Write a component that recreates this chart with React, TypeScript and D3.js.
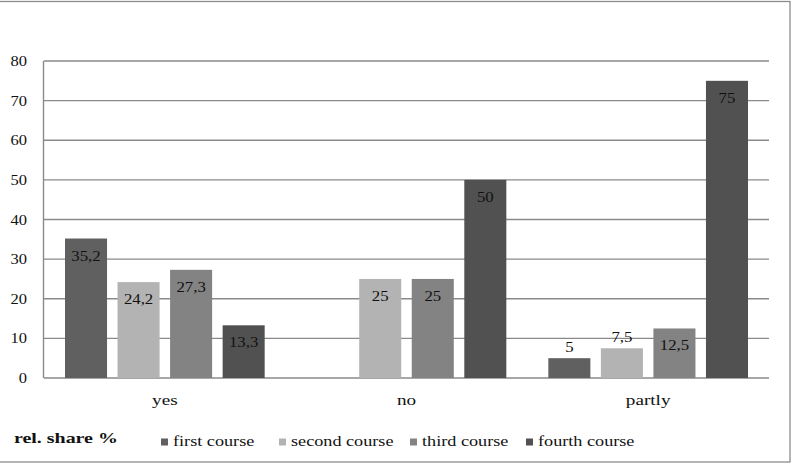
import React from "react";
import * as d3 from "d3";

const categories = ["yes", "no", "partly"];
const seriesNames = ["first course", "second course", "third course", "fourth course"];
const firstCourse = [35.2, 0, 5];
const secondCourse = [24.2, 25, 7.5];
const thirdCourse = [27.3, 25, 12.5];
const fourthCourse = [13.3, 50, 75];
const yTicks = [0, 10, 20, 30, 40, 50, 60, 70, 80];
const axisTitle = "rel. share %";

const seriesValues = [firstCourse, secondCourse, thirdCourse, fourthCourse];
const colors = ["#606060", "#b3b3b3", "#838383", "#515151"];

const W = 797;
const H = 468;
const SX = 1.28; // horizontal text stretch seen in the reference
const FONT = "Liberation Serif, DejaVu Serif, serif";

function fmt(v: number) {
  return String(v).replace(".", ",");
}

function SText(props: {
  x: number;
  y: number;
  anchor?: string;
  size: number;
  weight?: string;
  sx?: number;
  children: React.ReactNode;
  fill?: string;
}) {
  const s = props.sx ?? SX;
  return (
    <text
      transform={`translate(${props.x},${props.y}) scale(${s},1)`}
      textAnchor={props.anchor ?? "start"}
      style={{
        fontSize: props.size + "px",
        fontWeight: props.weight ?? "normal",
        fontFamily: FONT,
      }}
      fill={props.fill ?? "#111"}
    >
      {props.children}
    </text>
  );
}

export default function App() {
  const left = 44;
  const right = 769;
  const top = 61;
  const bottom = 378;

  const y = d3.scaleLinear().domain([0, 80]).range([bottom, top]);
  const x0 = d3.scaleBand<string>().domain(categories).range([left, right]).paddingInner(0).paddingOuter(0);
  const bw = x0.bandwidth();
  const x1 = d3
    .scaleBand<string>()
    .domain(seriesNames)
    .range([21, bw - 21])
    .paddingInner(0.2)
    .paddingOuter(0);

  const legendX = [161, 279, 410, 526];
  const gridColor = "#8a8a8a";

  return (
    <svg
      width={W}
      height={H}
      style={{ position: "absolute", left: 0, top: 0, background: "#fff" }}
    >
      <rect x={0} y={0} width={W} height={H} fill="#fff" />
      {/* outer frame */}
      <rect x={-1} y={1.5} width={791} height={460.5} fill="none" stroke="#8c8c8c" strokeWidth={1.3} />

      {/* gridlines */}
      {yTicks.map((t) => (
        <line
          key={t}
          x1={left}
          x2={right}
          y1={y(t)}
          y2={y(t)}
          stroke={gridColor}
          strokeWidth={1.4}
        />
      ))}
      <line x1={left - 0.5} x2={left - 0.5} y1={top} y2={bottom} stroke={gridColor} strokeWidth={1.4} />

      {/* y tick labels */}
      {yTicks.map((t) => (
        <SText key={"t" + t} x={27} y={y(t) + 5} anchor="end" size={14} sx={1.18}>
          {t}
        </SText>
      ))}

      {/* bars */}
      {categories.map((c, ci) => (
        <g key={c} transform={`translate(${x0(c)},0)`}>
          {seriesNames.map((s, si) => {
            const v = seriesValues[si][ci];
            if (!v) return null;
            const bx = x1(s)!;
            const by = y(v);
            const inside = v >= 10;
            return (
              <g key={s}>
                <rect x={bx} y={by} width={x1.bandwidth()} height={bottom - by} fill={colors[si]} />
                <SText
                  x={bx + x1.bandwidth() / 2}
                  y={inside ? by + 22 : by - 6}
                  anchor="middle"
                  size={14}
                  sx={1.2}
                >
                  {fmt(v)}
                </SText>
              </g>
            );
          })}
        </g>
      ))}

      {/* x labels */}
      {categories.map((c) => (
        <SText key={"x" + c} x={x0(c)! + bw / 2} y={405} anchor="middle" size={15}>
          {c}
        </SText>
      ))}

      {/* legend */}
      <SText x={14} y={443} size={15} weight="bold" sx={1.33}>
        {axisTitle}
      </SText>
      {seriesNames.map((s, i) => (
        <g key={"l" + s}>
          <rect x={legendX[i]} y={438.5} width={7} height={7} fill={colors[i]} />
          <SText x={legendX[i] + 12} y={446} size={14} sx={1.3}>
            {s}
          </SText>
        </g>
      ))}
    </svg>
  );
}
